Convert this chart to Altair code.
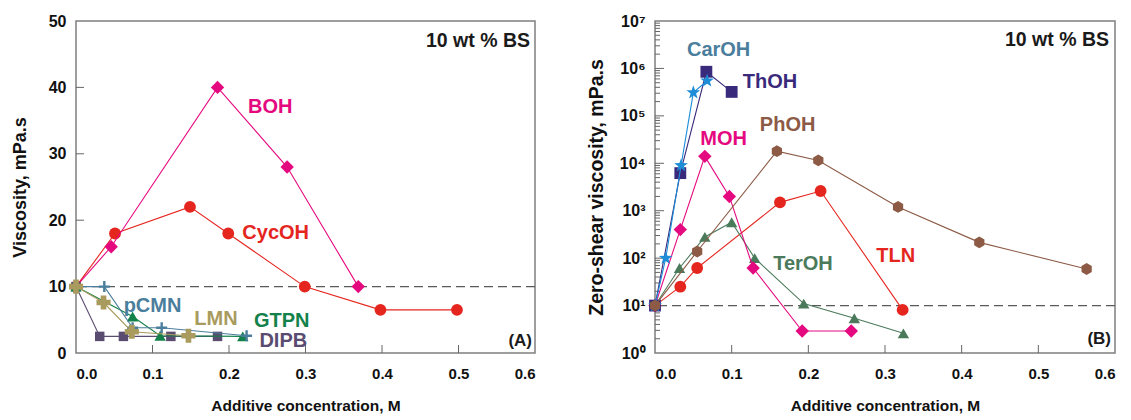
import altair as alt
import pandas as pd

# ---------------- Panel A : viscosity (linear) ----------------
BOH_x = [0, 0.046, 0.185, 0.276, 0.369]
BOH_y = [10, 16, 40, 28, 10]
CycOH_x = [0, 0.051, 0.149, 0.199, 0.299, 0.398, 0.498]
CycOH_y = [10, 18, 22, 18, 10, 6.5, 6.5]
pCMN_x = [0, 0.037, 0.074, 0.112, 0.223]
pCMN_y = [10, 10, 3.8, 3.8, 2.6]
GTPN_x = [0, 0.074, 0.11, 0.218]
GTPN_y = [10, 5.5, 2.6, 2.5]
DIPB_x = [0, 0.031, 0.062, 0.124, 0.185]
DIPB_y = [10, 2.5, 2.5, 2.5, 2.5]
LMN_x = [0, 0.036, 0.073, 0.147]
LMN_y = [10, 7.6, 3.2, 2.6]

A_labels = ["BOH", "CycOH", "pCMN", "LMN", "GTPN", "DIPB"]
A_label_x = [0.254, 0.261, 0.100, 0.183, 0.269, 0.271]
A_label_y = [37.0, 18.1, 7.05, 5.05, 4.8, 1.8]

# ---------------- Panel B : zero-shear viscosity (log) ----------------
CarOH_x = [0, 0.014, 0.034, 0.050, 0.068]
CarOH_y = [10, 100, 9000, 3.1e5, 5.5e5]
ThOH_x = [0, 0.033, 0.067, 0.100]
ThOH_y = [10, 6200, 8.5e5, 3.2e5]
MOH_x = [0, 0.033, 0.065, 0.097, 0.128, 0.192, 0.256]
MOH_y = [10, 400, 14000, 2000, 62, 2.9, 2.9]
TerOH_x = [0, 0.032, 0.065, 0.100, 0.130, 0.194, 0.260, 0.324]
TerOH_y = [10, 62, 280, 570, 100, 11, 5.4, 2.6]
TLN_x = [0, 0.033, 0.055, 0.163, 0.216, 0.323]
TLN_y = [10, 25, 62, 1500, 2600, 8.1]
PhOH_x = [0, 0.055, 0.159, 0.213, 0.317, 0.423, 0.563]
PhOH_y = [10, 138, 18000, 11500, 1200, 215, 59]

B_labels = ["CarOH", "ThOH", "MOH", "PhOH", "TerOH", "TLN"]
B_label_x = [0.083, 0.150, 0.0896, 0.173, 0.193, 0.314]
B_label_y = [2.5e6, 5.1e5, 3.3e4, 6.5e4, 76, 110]

x_ticks = [0.0, 0.1, 0.2, 0.3, 0.4, 0.5, 0.6]
x_inner_ticks = [0.1, 0.2, 0.3, 0.4, 0.5]
A_y_ticks = [0, 10, 20, 30, 40, 50]
A_y_inner = [10, 20, 30, 40]
B_y_ticks = [1, 10, 100, 1000, 1e4, 1e5, 1e6, 1e7]
B_y_inner = [10, 100, 1000, 1e4, 1e5, 1e6]
B_y_minor = [m * 10 ** k for k in range(7) for m in range(2, 10)]
ref_level = [10]

# ---------------- styling ----------------
W, H = 459, 332
AXFONT = "Liberation Sans"
LBLFONT = "Liberation Sans"

PINK = "#E5097F"
RED = "#E5261F"
STEEL = "#4A7E9C"
OLIVE = "#A99B5E"
GREEN = "#13814A"
DIPBC = "#5A4C70"
BLUE = "#1E8DD8"
PURPLE = "#3A2A7C"
BROWN = "#8C5A45"
TERC = "#4B7A5B"

STAR = ("M0,-1L0.235,-0.324L0.951,-0.309L0.380,0.124L0.588,0.809L0,0.4"
        "L-0.588,0.809L-0.380,0.124L-0.951,-0.309L-0.235,-0.324Z")
HEX = "M0,-1L0.866,-0.5L0.866,0.5L0,1L-0.866,0.5L-0.866,-0.5Z"
PLUS = "M-1,0L1,0M0,-1L0,1"

xaxis = alt.Axis(values=x_ticks, format=".1f", title="Additive concentration, M",
                 ticks=False, tickSize=0, domain=False, grid=False, labelPadding=13,
                 labelFontSize=15, titleFontSize=15.5, titlePadding=17)
XA = alt.X("x:Q", scale=alt.Scale(domain=[0, 0.6], nice=False), axis=xaxis)
YA = alt.Y("y:Q", scale=alt.Scale(domain=[0, 50], nice=False),
           axis=alt.Axis(values=A_y_ticks, title="Viscosity, mPa.s", ticks=False,
                         tickSize=0, domain=False, grid=False, labelPadding=10,
                         labelFontSize=16, titleFontSize=18, titlePadding=19))
XB = alt.X("x:Q", scale=alt.Scale(domain=[0, 0.6], nice=False), axis=xaxis)
YB = alt.Y("y:Q", scale=alt.Scale(type="log", domain=[1, 1e7], nice=False),
           axis=alt.Axis(values=B_y_ticks, title="Zero-shear viscosity, mPa.s",
                         labelExpr="'10' + ['⁰','¹','²','³','⁴','⁵','⁶','⁷'][round(log(datum.value)/LN10)]",
                         ticks=False, tickSize=0, domain=False, grid=False,
                         labelPadding=10, labelFontSize=16, titleFontSize=19.5,
                         titlePadding=13))


def series(X, Y, xs, ys, color, shape, size, line_color=None, filled=True, sw=1.1):
    df = pd.DataFrame({"x": xs, "y": ys})
    line = alt.Chart(df).mark_line(color=line_color or color, strokeWidth=sw).encode(x=X, y=Y)
    if filled:
        pts = alt.Chart(df).mark_point(shape=shape, size=size, filled=True, color=color,
                                       opacity=1).encode(x=X, y=Y)
    else:
        pts = alt.Chart(df).mark_point(shape=shape, size=size, filled=False, color=color,
                                       strokeWidth=2.4, opacity=1).encode(x=X, y=Y)
    return [line, pts]


def labels(X, Y, names, xs, ys, colors):
    out = []
    for n, lx, ly, c in zip(names, xs, ys, colors):
        df = pd.DataFrame({"x": [lx], "y": [ly], "t": [n]})
        out.append(alt.Chart(df).mark_text(font=LBLFONT, fontWeight="bold", fontSize=20,
                                           color=c, align="center", baseline="middle")
                   .encode(x=X, y=Y, text="t:N"))
    return out


def fixed_text(txt, px, py, size):
    df = pd.DataFrame({"t": [txt]})
    return alt.Chart(df).mark_text(font=LBLFONT, fontWeight="bold", fontSize=size,
                                   color="#1a1a1a", align="right", baseline="middle") \
        .encode(x=alt.value(px), y=alt.value(py), text="t:N")


def ref_line(X, Y):
    df = pd.DataFrame({"y": ref_level})
    return alt.Chart(df).mark_rule(color="#5a5a5a", strokeDash=[9, 5], strokeWidth=1.3) \
        .encode(y=Y)


def x_inner(X):
    df = pd.DataFrame({"x": x_inner_ticks})
    return alt.Chart(df).mark_rule(color="#666666", strokeWidth=1) \
        .encode(x=X, y=alt.value(H), y2=alt.value(H - 8))


def y_inner(Y, vals, length):
    df = pd.DataFrame({"y": vals})
    return alt.Chart(df).mark_rule(color="#666666", strokeWidth=1) \
        .encode(y=Y, x=alt.value(0), x2=alt.value(length))


# ---------- panel A ----------
layersA = [ref_line(XA, YA), x_inner(XA), y_inner(YA, A_y_inner, 8)]
layersA += series(XA, YA, CycOH_x, CycOH_y, RED, "circle", 140)
layersA += series(XA, YA, BOH_x, BOH_y, PINK, "diamond", 180)
layersA += series(XA, YA, DIPB_x, DIPB_y, DIPBC, "square", 90)
layersA += series(XA, YA, GTPN_x, GTPN_y, GREEN, "triangle-up", 130)
layersA += series(XA, YA, pCMN_x, pCMN_y, STEEL, PLUS, 120, filled=False)
layersA += series(XA, YA, LMN_x, LMN_y, OLIVE, "cross", 200)
layersA += labels(XA, YA, A_labels, A_label_x, A_label_y,
                  [PINK, RED, STEEL, OLIVE, GREEN, DIPBC])
layersA += [fixed_text("10 wt % BS", W - 5, 20, 19.5), fixed_text("(A)", W - 3, 320, 17)]
chartA = alt.layer(*layersA).properties(width=W, height=H)

# ---------- panel B ----------
layersB = [ref_line(XB, YB), x_inner(XB), y_inner(YB, B_y_inner, 9),
           y_inner(YB, B_y_minor, 5)]
layersB += series(XB, YB, TLN_x, TLN_y, RED, "circle", 140)
layersB += series(XB, YB, TerOH_x, TerOH_y, TERC, "triangle-up", 130)
layersB += series(XB, YB, MOH_x, MOH_y, PINK, "diamond", 180)
layersB += series(XB, YB, ThOH_x, ThOH_y, PURPLE, "square", 140)
layersB += series(XB, YB, CarOH_x, CarOH_y, BLUE, STAR, 210)
layersB += series(XB, YB, PhOH_x, PhOH_y, BROWN, HEX, 140)
layersB += labels(XB, YB, B_labels, B_label_x, B_label_y,
                  [STEEL, PURPLE, PINK, BROWN, TERC, RED])
layersB += [fixed_text("10 wt % BS", W - 5, 19, 19.5), fixed_text("(B)", W - 3, 318, 17)]
chartB = alt.layer(*layersB).properties(width=W + 1, height=H)

chart = alt.hconcat(chartA, chartB, spacing=48).properties(
    padding={"left": 10, "top": 12, "right": 5, "bottom": 0}, background="white"
).configure_view(stroke="#7f7f7f", strokeWidth=1.5).configure_axis(
    labelFont=AXFONT, labelFontWeight="bold", labelColor="#111111",
    titleFont=AXFONT, titleFontWeight="bold", titleColor="#111111"
)

chart.save("out.html", embed_options={"renderer": "svg", "actions": False})
